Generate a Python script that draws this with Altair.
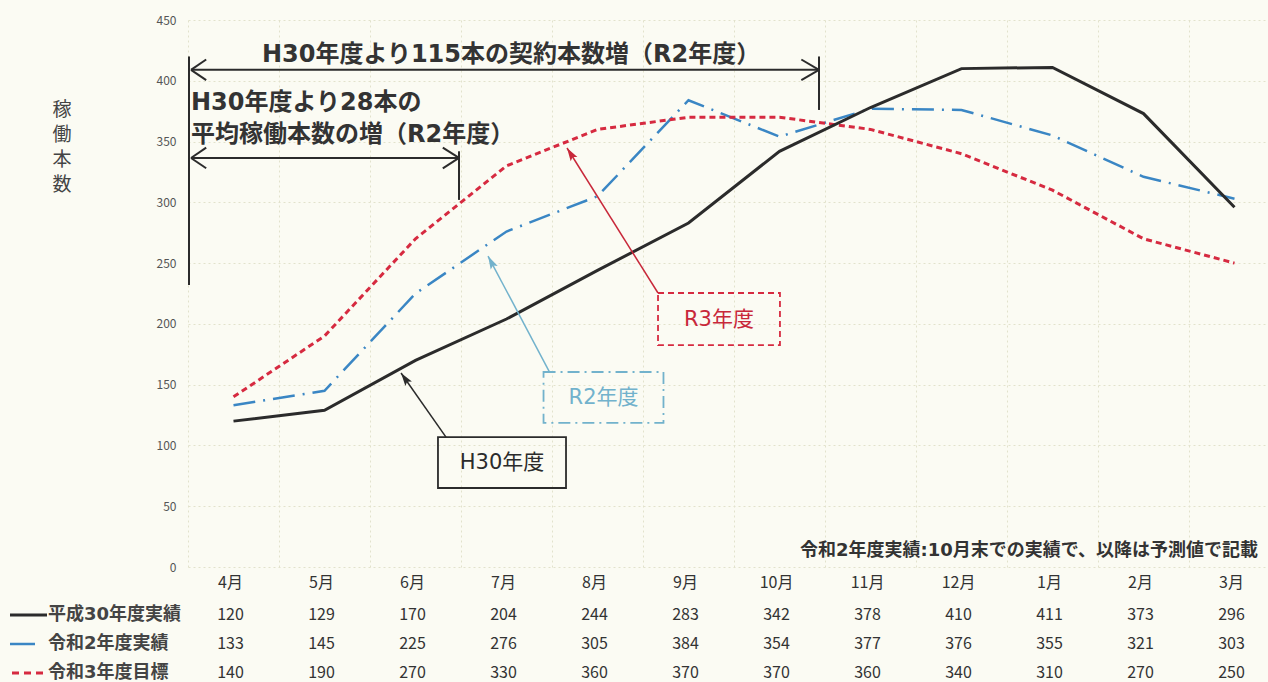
import math
import altair as alt
import pandas as pd

# ---------------- data ----------------
months = ["4月", "5月", "6月", "7月", "8月", "9月", "10月", "11月", "12月", "1月", "2月", "3月"]
h30 = [120, 129, 170, 204, 244, 283, 342, 378, 410, 411, 373, 296]
r2 = [133, 145, 225, 276, 305, 384, 354, 377, 376, 355, 321, 303]
r3 = [140, 190, 270, 330, 360, 370, 370, 360, 340, 310, 270, 250]
series_names = ["平成30年度実績", "令和2年度実績", "令和3年度目標"]
y_ticks = [0, 50, 100, 150, 200, 250, 300, 350, 400, 450]
y_title_chars = ["稼", "働", "本", "数"]

FONT = "Noto Sans CJK JP"
WFONT = "DejaVu Sans, Noto Sans CJK JP"
BLACK = "#2b2b2b"
BLUE = "#3a86c4"
RED = "#d62a40"
LBLUE = "#72b2cc"
GRID = "#e2e2cc"

W, H = 1077, 547
XD = [-0.5, -0.5 + W / 91.0]
YD = [0, 450]

def df_series(vals):
    return pd.DataFrame({"i": list(range(len(months))), "m": months, "v": vals})

d_h30, d_r2, d_r3 = df_series(h30), df_series(r2), df_series(r3)

xs = alt.Scale(domain=XD, nice=False, zero=False)
ys = alt.Scale(domain=YD, nice=False)

base_x = alt.X("i:Q", scale=xs,
               axis=alt.Axis(values=[k + 0.5 for k in range(-1, 12)], labels=False, ticks=False,
                             domain=False, title=None, grid=True, gridColor=GRID,
                             gridDash=[2, 3], gridWidth=1))
base_y = alt.Y("v:Q", scale=ys,
               axis=alt.Axis(values=y_ticks, title=None, ticks=False, domain=False,
                             labelFont=FONT, labelFontSize=12, labelColor="#555",
                             labelPadding=12, grid=True, gridColor=GRID,
                             gridDash=[2, 3], gridWidth=1))

grid = alt.Chart(d_h30).mark_point(opacity=0).encode(x=base_x, y=base_y)

def line(d, color, dash, width):
    kw = dict(color=color, strokeWidth=width)
    if dash:
        kw["strokeDash"] = dash
    return alt.Chart(d).mark_line(**kw).encode(
        x=alt.X("i:Q", scale=xs), y=alt.Y("v:Q", scale=ys))

l_r2 = line(d_r2, BLUE, [22, 8, 2, 8], 2.5)
l_r3 = line(d_r3, RED, [6, 4], 3)
l_h30 = line(d_h30, BLACK, None, 3)

# ---------------- annotations (data units) ----------------
def seg_df(rows):
    return pd.DataFrame(rows, columns=["x", "y", "x2", "y2"])

arrow_segs = seg_df([
    [-0.467, 409, 6.434, 409],        # top arrow shaft
    [-0.467, 409, -0.30, 417.5],
    [-0.467, 409, -0.30, 400.5],
    [6.434, 409, 6.24, 417.5],
    [6.434, 409, 6.24, 400.5],
    [-0.489, 420, -0.489, 232],        # long left bar
    [6.434, 420, 6.434, 376],          # right bar top arrow
    [-0.467, 336.5, 2.478, 336.5],    # second arrow shaft
    [-0.467, 336.5, -0.30, 345],
    [-0.467, 336.5, -0.30, 328],
    [2.478, 336.5, 2.30, 345],
    [2.478, 336.5, 2.30, 328],
    [2.478, 342, 2.478, 302],          # right bar second arrow
])

def rules(df, color, width):
    return alt.Chart(df).mark_rule(color=color, strokeWidth=width).encode(
        x=alt.X("x:Q", scale=xs), y=alt.Y("y:Q", scale=ys), x2="x2:Q", y2="y2:Q")

arrows = rules(arrow_segs, BLACK, 2)

def txt(df, size, color, align="center", weight="bold", font=WFONT):
    return alt.Chart(df).mark_text(font=font, fontSize=size, color=color, align=align,
                                   baseline="middle", fontWeight=weight).encode(
        x=alt.X("x:Q", scale=xs), y=alt.Y("y:Q", scale=ys), text="t:N")

t_top = txt(pd.DataFrame({"x": [3.05], "y": [421.5], "t": ["H30年度より115本の契約本数増（R2年度）"]}),
            24, "#333333")
t_2 = txt(pd.DataFrame({"x": [-0.467, -0.467], "y": [381.7, 355.4],
                        "t": ["H30年度より28本の", "平均稼働本数の増（R2年度）"]}),
          24, "#333333", align="left")

# callout boxes
def box(x, x2, y, y2, color, dash, width=1.8):
    kw = dict(fillOpacity=0, stroke=color, strokeWidth=width)
    if dash:
        kw["strokeDash"] = dash
    return alt.Chart(pd.DataFrame({"x": [x], "x2": [x2], "y": [y], "y2": [y2]})).mark_rect(**kw).encode(
        x=alt.X("x:Q", scale=xs), x2="x2:Q", y=alt.Y("y:Q", scale=ys), y2="y2:Q")

b_h30 = box(2.247, 3.654, 106.9, 65.0, BLACK, None)
b_r2 = box(3.407, 4.725, 160.4, 118.5, LBLUE, [12, 5, 2, 5])
b_r3 = box(4.665, 6.005, 225.4, 182.6, RED, [6, 4])

t_h30 = txt(pd.DataFrame({"x": [2.951], "y": [85.6], "t": ["H30年度"]}), 21, BLACK, weight="normal")
t_r2 = txt(pd.DataFrame({"x": [4.066], "y": [139.0], "t": ["R2年度"]}), 21, LBLUE, weight="normal")
t_r3 = txt(pd.DataFrame({"x": [5.335], "y": [203.2], "t": ["R3年度"]}), 21, "#c8283a", weight="normal")

px_per_x = W / (XD[1] - XD[0])
px_per_y = H / (YD[1] - YD[0])

def leader(x0, y0, x1, y1, color):
    dx = (x1 - x0) * px_per_x
    dy = -(y1 - y0) * px_per_y
    ang = math.degrees(math.atan2(dx, -dy)) % 360
    seg = rules(seg_df([[x0, y0, x1, y1]]), color, 1.5)
    head = alt.Chart(pd.DataFrame({"x": [x1], "y": [y1]})).mark_point(
        shape="M0,0 L-0.3,1 L0,0.8 L0.3,1 Z", size=700, filled=True, color=color,
        opacity=1, angle=ang).encode(x=alt.X("x:Q", scale=xs), y=alt.Y("y:Q", scale=ys))
    return seg + head

ld_h30 = leader(2.335, 106.9, 1.841, 159.6, BLACK)
ld_r2 = leader(3.473, 160.4, 2.797, 255.8, LBLUE)
ld_r3 = leader(4.665, 225.4, 3.665, 344.7, "#c8283a")

note = alt.Chart(pd.DataFrame({"t": ["令和2年度実績:10月末での実績で、以降は予測値で記載"]})).mark_text(
    font=WFONT, fontSize=18, fontWeight="bold", color="#333", align="right", baseline="middle"
).encode(x=alt.value(1070), y=alt.value(531), text="t:N")

ytitle = [
    alt.Chart(pd.DataFrame({"t": [c]})).mark_text(
        font=FONT, fontSize=19, color="#444", align="center", baseline="middle").encode(
        x=alt.value(-126), y=alt.value(90 + 25 * k), text="t:N")
    for k, c in enumerate(y_title_chars)
]

# ---------------- table ----------------
def table_row(d, ypx, field):
    return alt.Chart(d).mark_text(font=FONT, fontSize=16, color="#333", dx=-3).encode(
        x=alt.X("i:Q", scale=xs), y=alt.value(ypx), text=f"{field}:N")

row_m = table_row(d_h30, 563, "m")
row1 = table_row(d_h30, 595, "v")
row2 = table_row(d_r2, 624, "v")
row3 = table_row(d_r3, 653, "v")

def row_label(name, ypx):
    return alt.Chart(pd.DataFrame({"t": [name]})).mark_text(
        font=WFONT, fontSize=18, fontWeight="bold", color="#444", align="left", baseline="middle"
    ).encode(x=alt.value(-140), y=alt.value(ypx), text="t:N")

lab1 = row_label(series_names[0], 595)
lab2 = row_label(series_names[1], 624)
lab3 = row_label(series_names[2], 653)

sw1 = alt.Chart(d_h30.head(1)).mark_rule(color=BLACK, strokeWidth=3).encode(
    x=alt.value(-178), x2=alt.value(-141), y=alt.value(595))
sw2 = alt.Chart(d_h30.head(1)).mark_rule(color=BLUE, strokeWidth=2.5).encode(
    x=alt.value(-178), x2=alt.value(-153), y=alt.value(624))
sw3 = alt.Chart(d_h30.head(1)).mark_rule(color=RED, strokeWidth=3, strokeDash=[7, 5]).encode(
    x=alt.value(-176), x2=alt.value(-143), y=alt.value(653))

chart = alt.layer(
    grid, l_r2, l_r3, l_h30, arrows, t_top, t_2,
    b_h30, b_r2, b_r3, t_h30, t_r2, t_r3, ld_h30, ld_r2, ld_r3,
    note, *ytitle, row_m, row1, row2, row3, lab1, lab2, lab3, sw1, sw2, sw3,
).properties(
    width=W, height=H,
    autosize=alt.AutoSizeParams(type="none"),
    padding={"left": 188, "top": 20, "right": 3, "bottom": 115},
    background="#fbfbf3",
).configure_view(stroke=None)

chart.save("out.html", embed_options={"renderer": "svg", "actions": False})
